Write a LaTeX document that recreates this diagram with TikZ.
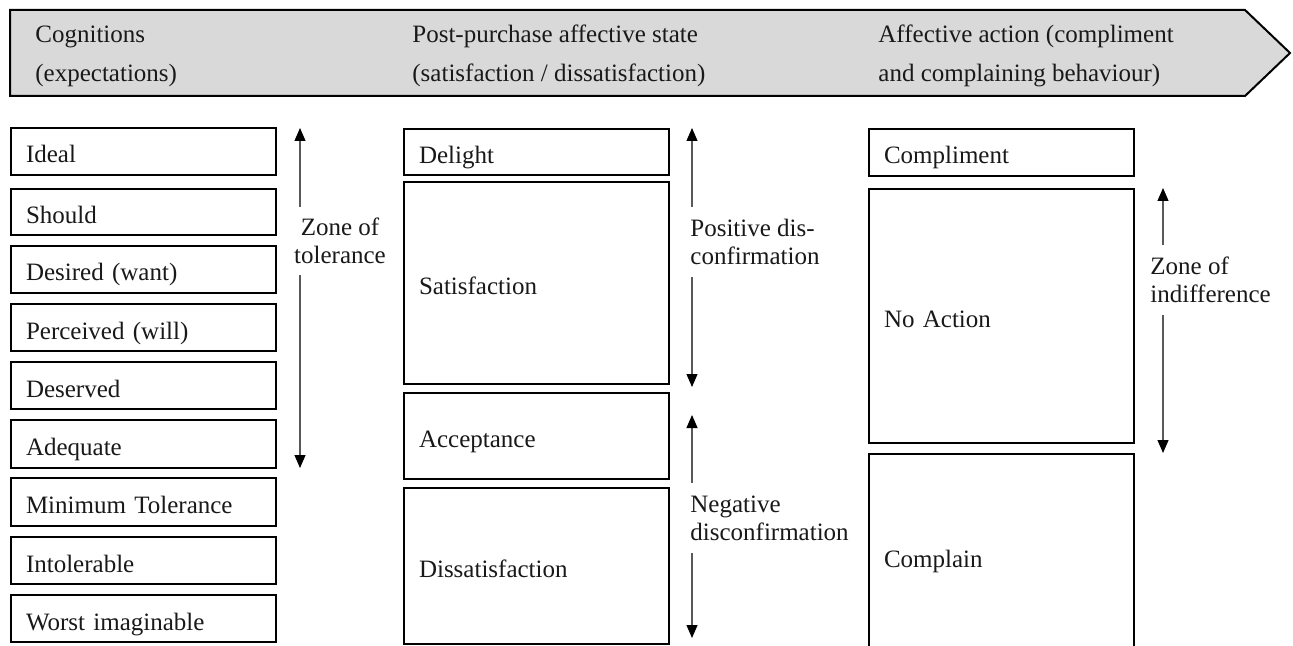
\documentclass[tikz,border=0pt]{standalone}
\usepackage{fontspec}
\setmainfont{Liberation Serif}
\usetikzlibrary{arrows.meta}
\definecolor{bannergray}{HTML}{D9D9D9}
\begin{document}
\begin{tikzpicture}[x=0.5pt,y=-0.5pt,
  every node/.style={font=\fontsize{12.5}{14}\selectfont, text=black!90},
  box/.style={draw, line width=1pt, anchor=north west, inner xsep=7.5pt,
    inner ysep=0pt, text width=117.5pt, text height=12pt, text depth=0.5pt,
    align=left, minimum height=#1},
  head/.style={anchor=base west, inner sep=0pt, align=left,
    font=\fontsize{12.5}{19.5}\selectfont},
  lbl/.style={inner sep=0pt, align=left},
  zarrow/.style={draw=black!65, line width=0.55pt,
    -{Triangle[width=5.5pt,length=6.5pt,color=black]}}]
% page frame
\clip (0,0) rectangle (1293,646);
\fill[white] (0,0) rectangle (1293,646);

% process banner (base anchor sits on the second line)
\draw[line width=1pt, fill=bannergray]
  (10,10) -- (1245,10) -- (1290,53) -- (1245,96) -- (10,96) -- cycle;
\node[head] (hcog) at (35,82) {Cognitions\\(expectations)};
\node[head] (hpost) at (412,82) {Post-purchase affective state\\(satisfaction / dissatisfaction)};
\node[head] (hact) at (878,82) {Affective action (compliment\\and complaining behaviour)};

% expectation levels
\node[box=23.5pt] (ideal)  at (10,127) {Ideal};
\node[box=23pt]   (should) at (10,188) {Should};
\node[box=23.5pt] (desired) at (10,245) {Desired (want)};
\node[box=23.5pt] (perceived) at (10,303) {Perceived (will)};
\node[box=23.5pt] (deserved) at (10,361) {Deserved};
\node[box=24pt]   (adequate) at (10,419) {Adequate};
\node[box=24pt]   (mintol) at (10,477) {Minimum Tolerance};
\node[box=23.5pt] (intol) at (10,536) {Intolerable};
\node[box=23.5pt] (worst) at (10,594) {Worst imaginable};

% affective states
\node[box=23pt]  (delight) at (403,128) {Delight};
\node[box=101pt] (satis) at (403,181) {Satisfaction};
\node[box=43pt]  (accept) at (403,392) {Acceptance};
\node[box=78pt]  (dissat) at (403,487) {Dissatisfaction};

% affective actions
\node[box=23.5pt] (compl) at (868,128) {Compliment};
\node[box=127pt]  (noact) at (868,188) {No Action};
\node[box=102pt]  (complain) at (868,453) {Complain};

% zone of tolerance
\node[lbl, align=center] (ztol) at (340,241) {Zone of\\tolerance};
\coordinate (zt0) at (300,128);
\coordinate (zt1) at (300,207);
\coordinate (zt2) at (300,275);
\coordinate (zt3) at (300,468);
\draw[zarrow] (zt1) -- (zt0);
\draw[zarrow] (zt2) -- (zt3);

% positive disconfirmation
\node[lbl, anchor=west] (posd) at (690,242) {Positive dis-\\confirmation};
\coordinate (pd0) at (692,128);
\coordinate (pd1) at (692,207);
\coordinate (pd2) at (692,277);
\coordinate (pd3) at (692,387);
\draw[zarrow] (pd1) -- (pd0);
\draw[zarrow] (pd2) -- (pd3);

% negative disconfirmation
\node[lbl, anchor=west] (negd) at (690,518) {Negative\\disconfirmation};
\coordinate (nd0) at (692,415);
\coordinate (nd1) at (692,483);
\coordinate (nd2) at (692,553);
\coordinate (nd3) at (692,638);
\draw[zarrow] (nd1) -- (nd0);
\draw[zarrow] (nd2) -- (nd3);

% zone of indifference
\node[lbl, anchor=west] (zind) at (1150,280) {Zone of\\indifference};
\coordinate (zi0) at (1163,188);
\coordinate (zi1) at (1163,245);
\coordinate (zi2) at (1163,315);
\coordinate (zi3) at (1163,453);
\draw[zarrow] (zi1) -- (zi0);
\draw[zarrow] (zi2) -- (zi3);
\end{tikzpicture}
\end{document}
